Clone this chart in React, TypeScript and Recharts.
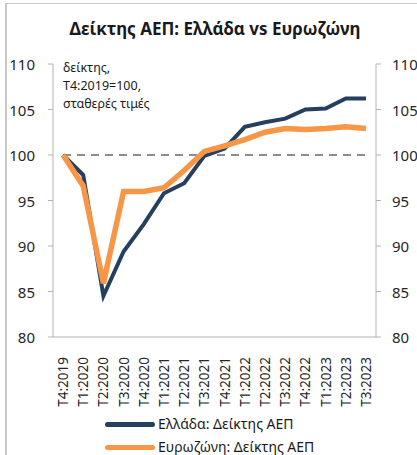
import { LineChart, Line, XAxis, YAxis, ReferenceLine } from "recharts";

const quarters = [
  "T4:2019", "T1:2020", "T2:2020", "T3:2020", "T4:2020", "T1:2021", "T2:2021", "T3:2021",
  "T4:2021", "T1:2022", "T2:2022", "T3:2022", "T4:2022", "T1:2023", "T2:2023", "T3:2023",
];
const greece = [100, 97.8, 84.5, 89.4, 92.4, 95.8, 96.9, 99.9, 100.7, 103.1, 103.6, 104.0, 105.0, 105.1, 106.2, 106.2];
const eurozone = [100, 96.6, 85.9, 96.0, 96.0, 96.4, 98.3, 100.4, 101.0, 101.7, 102.5, 102.9, 102.8, 102.9, 103.1, 102.9];
const yTicks = [80, 85, 90, 95, 100, 105, 110];
const baseValue = 100;

const greeceName = "Ελλάδα: Δείκτης ΑΕΠ";
const euroName = "Ευρωζώνη: Δείκτης ΑΕΠ";

const data = quarters.map((q, i) => ({ q, greece: greece[i], eurozone: eurozone[i] }));

const FONT = "'Noto Sans', sans-serif";
const NAVY = "#243f60";
const ORANGE = "#f79646";
const AXIS = "#b3b3b3";
const TEXT = "#262626";

function RotTick(props: any) {
  const { x, y, payload } = props;
  return (
    <g transform={`translate(${x},${y + 12})`}>
      <text transform="rotate(-90)" textAnchor="end" dominantBaseline="central"
        fontFamily={FONT} fontSize={13.5} fill={TEXT}>
        {payload.value}
      </text>
    </g>
  );
}

function YTick(props: any) {
  const { x, y, payload, anchor } = props;
  return (
    <text x={x} y={y} textAnchor={anchor} dominantBaseline="central" fontFamily={FONT} fontSize={15} fill={TEXT}>
      {payload.value}
    </text>
  );
}

export default function App() {
  return (
    <div style={{ position: "absolute", left: 0, top: 0, width: 417, height: 455, overflow: "hidden", background: "#fff" }}>
      <div style={{ position: "absolute", left: 5, top: 3, width: 500, height: 500, border: "1px solid #c8c8c8", borderLeftWidth: 2 }} />
      <div style={{ position: "absolute", left: 0, top: 17, width: 430, textAlign: "center", fontFamily: FONT, fontWeight: 700, fontSize: 17, color: "#1a1a1a" }}>
        Δείκτης ΑΕΠ: Ελλάδα vs Ευρωζώνη
      </div>
      <div style={{ position: "absolute", left: 63, top: 59, fontFamily: FONT, fontSize: 12.5, lineHeight: "18px", color: "#1a1a1a" }}>
        δείκτης,<br />T4:2019=100,<br />σταθερές τιμές
      </div>
      <div style={{ position: "absolute", left: 0, top: 0 }}>
        <LineChart width={417} height={455} data={data} margin={{ top: 64, right: 0, left: 0, bottom: 48 }}>
          <XAxis dataKey="q" height={70} tick={<RotTick />} tickLine={false} interval={0}
            padding={{ left: 10, right: 10 }} stroke={AXIS} />
          <YAxis yAxisId="left" domain={[80, 110]} ticks={yTicks} width={53} tickSize={5} tickMargin={13}
            stroke={AXIS} tick={<YTick anchor="end" />} />
          <YAxis yAxisId="right" orientation="right" domain={[80, 110]} ticks={yTicks} width={41} tickSize={5}
            tickMargin={11} stroke={AXIS} tick={<YTick anchor="start" />} />
          <ReferenceLine yAxisId="left" segment={[{ x: quarters[0], y: baseValue }, { x: quarters[quarters.length - 1], y: baseValue }]}
            stroke="#8c8c8c" strokeWidth={2} strokeDasharray="8 6" />
          <Line yAxisId="right" dataKey="greece" stroke="none" strokeWidth={0} dot={false} activeDot={false}
            legendType="none" isAnimationActive={false} />
          <Line yAxisId="left" dataKey="greece" name={greeceName} stroke={NAVY} strokeWidth={4} dot={false} isAnimationActive={false} />
          <Line yAxisId="left" dataKey="eurozone" name={euroName} stroke={ORANGE} strokeWidth={5.5} dot={false} isAnimationActive={false} />
        </LineChart>
      </div>
      {[{ name: greeceName, color: NAVY, top: 416 }, { name: euroName, color: ORANGE, top: 439 }].map((it) => (
        <div key={it.name} style={{ position: "absolute", left: 105, top: it.top, height: 16, lineHeight: "16px", display: "flex", alignItems: "center", fontFamily: FONT, fontSize: 14, color: "#1a1a1a", whiteSpace: "nowrap" }}>
          <span style={{ display: "inline-block", width: 50, height: 5, borderRadius: 3, background: it.color, marginRight: 3 }} />
          {it.name}
        </div>
      ))}
    </div>
  );
}
